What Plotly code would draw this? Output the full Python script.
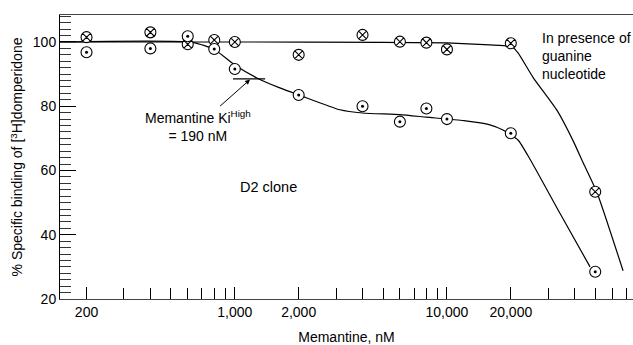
import math
import plotly.graph_objects as go

# Data
conc = [200, 400, 600, 800, 1000, 2000, 4000, 6000, 8000, 10000, 20000, 50000]
binding_gtp = [101.5, 103, 99.3, 100.6, 100, 96, 102.2, 100.1, 99.8, 97.7, 99.6, 53.4]
binding_d2 = [96.8, 98, 101.8, 97.8, 91.6, 83.5, 80, 75.2, 79.3, 76, 71.6, 28.5]

# Fitted curves
fit_gtp_x = [150, 1000, 5000, 10000, 15950, 20260, 21630, 25450, 33030, 39290, 43800, 51000, 67640]
fit_gtp_y = [100, 100, 99.9, 99.7, 99.1, 98.5, 96.6, 89.0, 78.7, 69.3, 62.5, 53.1, 28.8]
fit_d2_x = [150, 634, 805, 1000, 1270, 1630, 2026, 3130, 4000, 6000, 8000, 12000, 15950, 18370, 21630, 24640, 34140, 47270]
fit_d2_y = [100, 99.9, 97.6, 92.8, 88.8, 85.7, 83.4, 78.9, 77.9, 77.4, 76.6, 75.5, 74.2, 72.6, 69.5, 63.5, 46.6, 30.0]

x_major = [200, 1000, 2000, 10000, 20000]
x_major_text = ["200", "1,000", "2,000", "10,000", "20,000"]
x_minor = [300, 400, 500, 600, 700, 800, 900, 3000, 4000, 5000, 6000, 7000, 8000, 9000,
           30000, 40000, 50000, 60000, 70000]
y_major = [20, 40, 60, 80, 100]

ki_line_x = [980, 1390]
ki_line_y = 88.5
ki_point = (1180, 88.3)

FONT = "Liberation Sans, Arial, sans-serif"
LW = 1.2

fig = go.Figure()
fig.add_trace(go.Scatter(x=fit_gtp_x, y=fit_gtp_y, mode="lines", line=dict(color="black", width=LW, shape="spline", smoothing=0.5), showlegend=False, hoverinfo="skip"))
fig.add_trace(go.Scatter(x=fit_d2_x, y=fit_d2_y, mode="lines", line=dict(color="black", width=LW, shape="spline", smoothing=0.5), showlegend=False, hoverinfo="skip"))
fig.add_trace(go.Scatter(x=ki_line_x, y=[ki_line_y, ki_line_y], mode="lines", line=dict(color="black", width=LW), showlegend=False, hoverinfo="skip"))
fig.add_trace(go.Scatter(x=conc, y=binding_gtp, mode="markers", showlegend=False,
                         marker=dict(symbol="circle-x", size=11, color="white", line=dict(color="black", width=1.1))))
fig.add_trace(go.Scatter(x=conc, y=binding_d2, mode="markers", showlegend=False,
                         marker=dict(symbol="circle", size=11, color="white", line=dict(color="black", width=1.1))))
fig.add_trace(go.Scatter(x=conc, y=binding_d2, mode="markers", showlegend=False,
                         marker=dict(symbol="circle", size=3, color="black")))

fig.add_annotation(x=math.log10(ki_point[0]), y=ki_point[1], xref="x", yref="y",
                   text="Memantine Ki<sup>High</sup><br>= 190 nM",
                   ax=-52, ay=46, showarrow=True, arrowhead=2, arrowsize=1, arrowwidth=1, arrowcolor="black",
                   font=dict(family=FONT, size=14, color="black"), align="center")
fig.add_annotation(x=0.838, y=0.955, xref="paper", yref="paper", xanchor="left", yanchor="top",
                   text="In presence of<br>guanine<br>nucleotide", showarrow=False, align="left",
                   font=dict(family=FONT, size=14, color="black"))
fig.add_annotation(x=0.311, y=0.394, xref="paper", yref="paper", xanchor="left", yanchor="middle",
                   text="D2 clone", showarrow=False, font=dict(family=FONT, size=14.5, color="black"))

fig.update_layout(
    width=633, height=345,
    margin=dict(l=60, r=0, t=15, b=46),
    plot_bgcolor="white", paper_bgcolor="white",
    font=dict(family=FONT, size=14, color="black"),
    xaxis=dict(type="log", range=[2.176, 4.877], showgrid=False, zeroline=False, automargin=False,
               showline=True, linecolor="#444", linewidth=1, mirror=True,
               tickmode="array", tickvals=x_major, ticktext=x_major_text,
               ticks="inside", ticklen=12, tickwidth=1, tickcolor="black",
               minor=dict(tickmode="array", tickvals=x_minor, ticks="inside", ticklen=11, tickwidth=1, tickcolor="black"),
               title=dict(text="Memantine, nM", standoff=13, font=dict(size=14))),
    yaxis=dict(range=[20, 108.4], showgrid=False, zeroline=False, automargin=False,
               showline=True, linecolor="black", linewidth=1,
               tickmode="array", tickvals=y_major,
               ticks="inside", ticklen=16, tickwidth=1.2, tickcolor="black",
               minor=dict(dtick=2, ticks="inside", ticklen=11, tickwidth=0.8, tickcolor="#333"),
               title=dict(text="% Specific binding of [<sup>3</sup>H]domperidone", standoff=6, font=dict(size=14))),
)

fig.write_html("out.html", config={"displayModeBar": False},
               post_script="document.body.style.margin='0';document.body.style.overflow='hidden';")
